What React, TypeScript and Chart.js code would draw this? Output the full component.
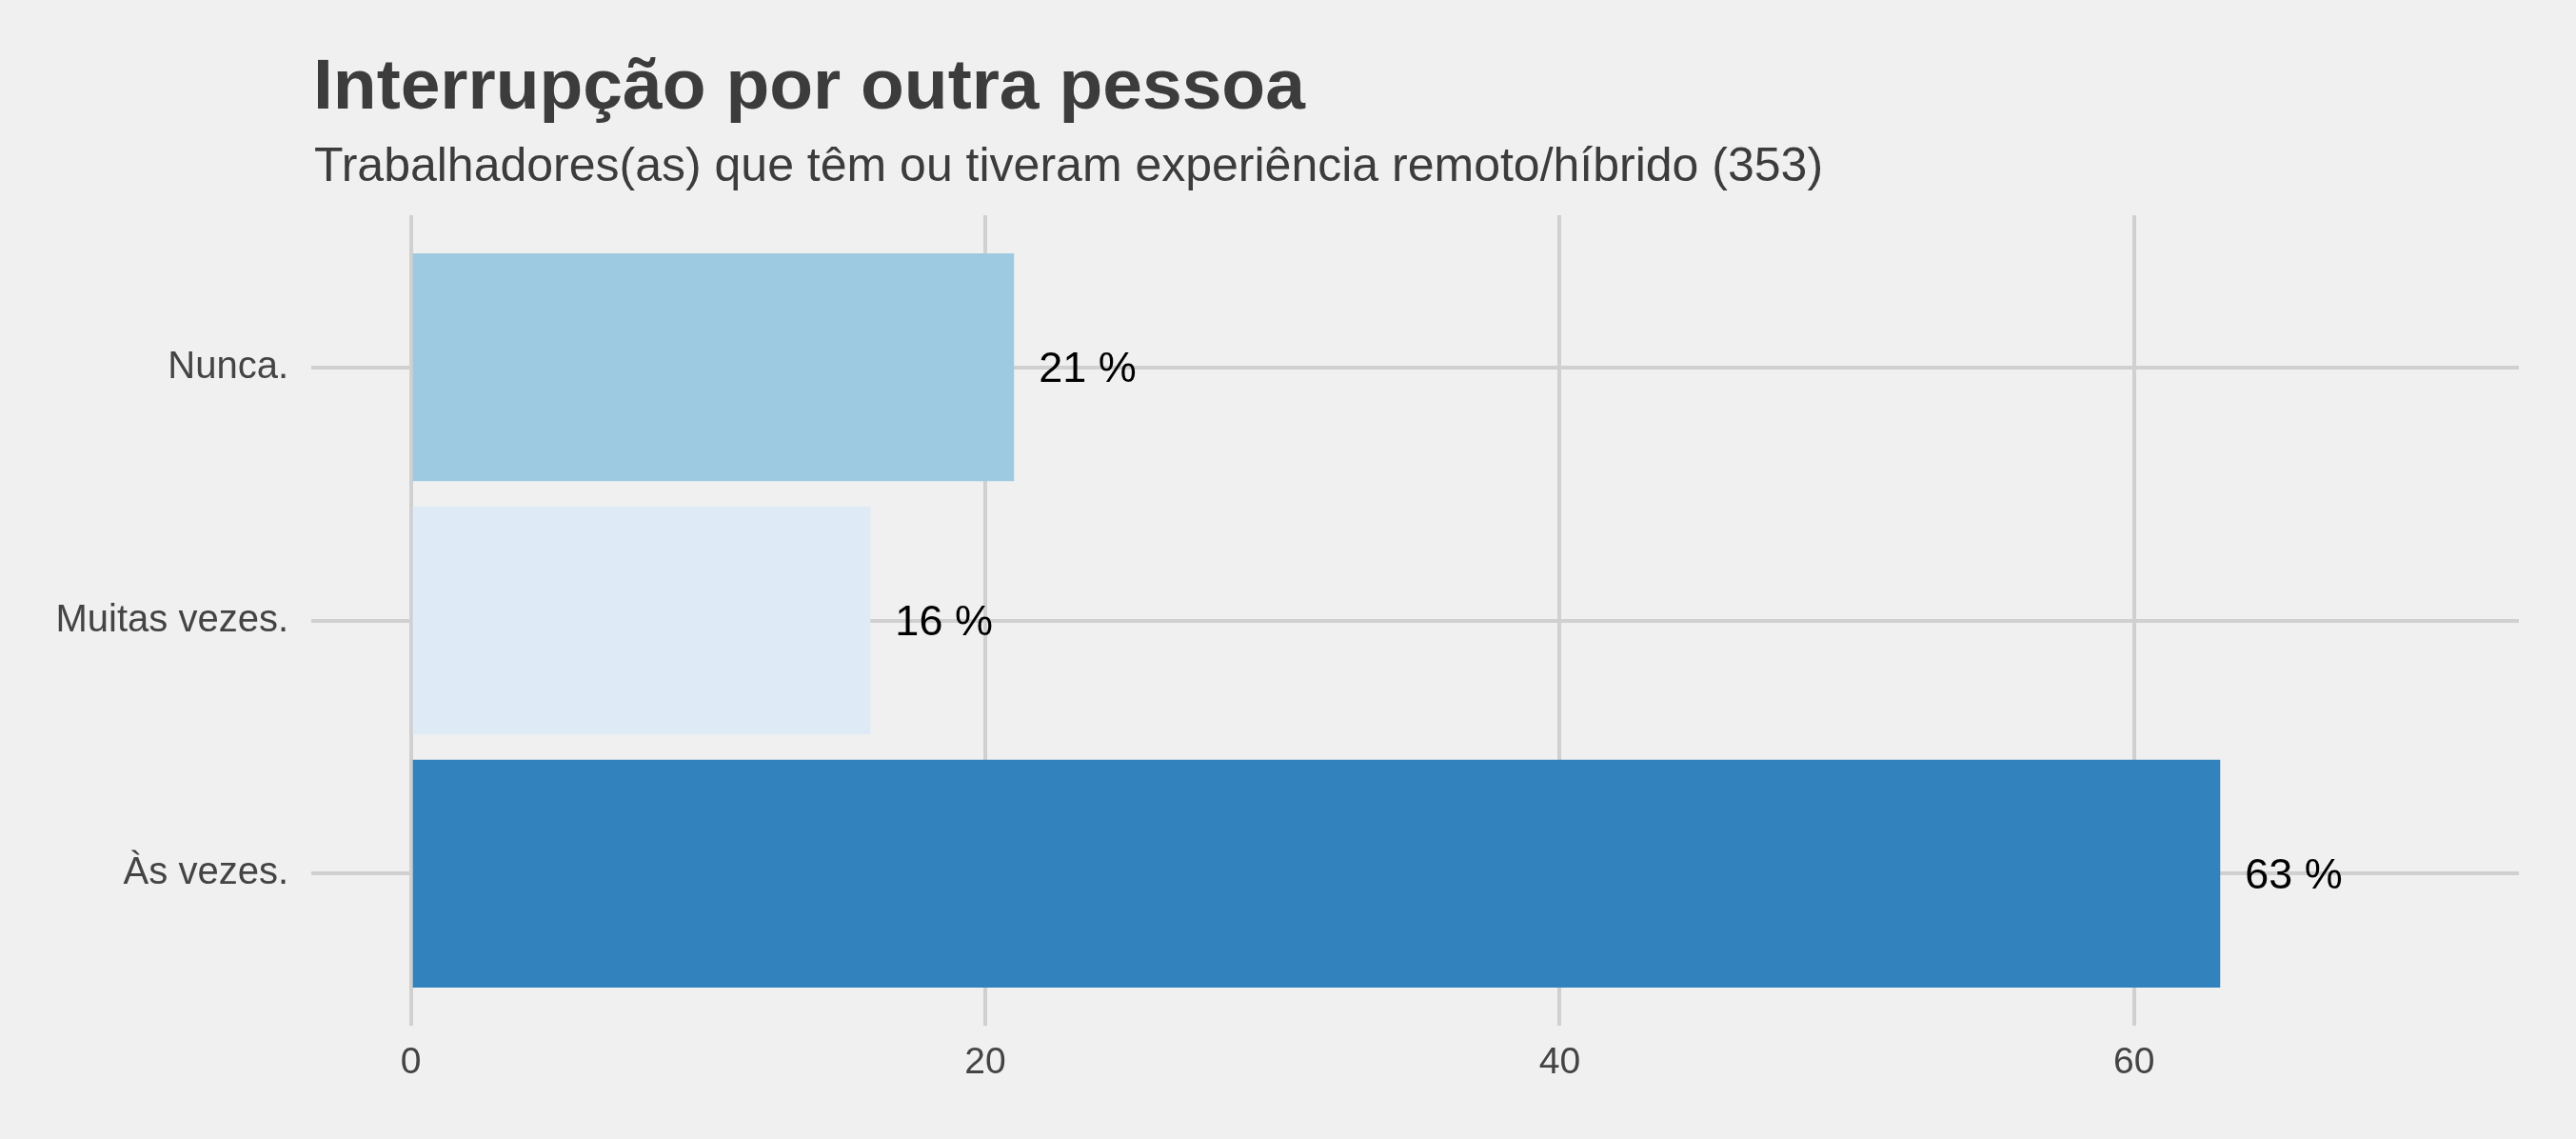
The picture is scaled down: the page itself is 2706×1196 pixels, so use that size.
import React, { useEffect, useRef } from "react";
import { Chart, registerables } from "chart.js";

Chart.register(...registerables);

const categories = ["Nunca.", "Muitas vezes.", "Às vezes."];
const values = [21, 16, 63];
const barColors = ["#9ecae1", "#deebf7", "#3182bd"];
const xTicks = [0, 20, 40, 60];
const titleText = "Interrupção por outra pessoa";
const subtitleText = "Trabalhadores(as) que têm ou tiveram experiência remoto/híbrido (353)";

const W = 2706;
const H = 1196;
const FONT = "'Liberation Sans', Arial, Helvetica, sans-serif";

export default function App() {
  const ref = useRef<HTMLCanvasElement | null>(null);

  useEffect(() => {
    document.body.style.margin = "0";
    document.body.style.background = "#f0f0f0";
    const canvas = ref.current;
    if (!canvas) return;

    const bgPlugin = {
      id: "bg",
      beforeDraw(chart: any) {
        const ctx = chart.ctx;
        ctx.save();
        ctx.fillStyle = "#f0f0f0";
        ctx.fillRect(0, 0, chart.width, chart.height);
        ctx.restore();
      },
    };

    const titlePlugin = {
      id: "titles",
      afterDraw(chart: any) {
        const ctx = chart.ctx;
        ctx.save();
        ctx.textAlign = "left";
        ctx.textBaseline = "alphabetic";
        ctx.fillStyle = "#3c3c3c";
        ctx.font = `bold 75px ${FONT}`;
        ctx.fillText(titleText, 329, 114);
        ctx.font = `50px ${FONT}`;
        ctx.fillText(subtitleText, 330, 190);
        ctx.restore();
      },
    };

    const labelPlugin = {
      id: "valueLabels",
      afterDatasetsDraw(chart: any) {
        const ctx = chart.ctx;
        const meta = chart.getDatasetMeta(0);
        ctx.save();
        ctx.font = `45px ${FONT}`;
        ctx.fillStyle = "#000000";
        ctx.textAlign = "left";
        ctx.textBaseline = "middle";
        meta.data.forEach((bar: any, i: number) => {
          ctx.fillText(`${values[i]} %`, bar.x + 26, bar.y + 3);
        });
        ctx.restore();
      },
    };

    const chart = new Chart(canvas, {
      type: "bar",
      data: {
        datasets: [
          {
            data: values.map((v, i) => ({ x: v, y: i })),
            backgroundColor: barColors,
            borderWidth: 0,
            barPercentage: 1,
            categoryPercentage: 0.9,
          },
        ],
      },
      options: {
        indexAxis: "y",
        animation: false,
        responsive: false,
        layout: { padding: { top: 226, right: 60, left: 0, bottom: 0 } },
        plugins: {
          legend: { display: false },
          tooltip: { enabled: false },
          title: { display: false },
        },
        scales: {
          x: {
            type: "linear",
            position: "bottom",
            min: -3.47,
            max: 73.4,
            offset: false,
            afterBuildTicks(scale: any) {
              scale.ticks = xTicks.map((v) => ({ value: v }));
            },
            afterFit(scale: any) {
              scale.height = 119;
            },
            border: { display: false },
            grid: { color: "#d0d0d0", lineWidth: 4, drawTicks: false, offset: false },
            ticks: {
              padding: 20,
              color: "#444444",
              font: { family: FONT, size: 39, lineHeight: 1 },
              callback: (v: any) => String(v),
            },
          },
          y: {
            type: "linear",
            position: "left",
            reverse: true,
            min: -0.6,
            max: 2.6,
            offset: false,
            afterBuildTicks(scale: any) {
              scale.ticks = categories.map((_, i) => ({ value: i }));
            },
            afterFit(scale: any) {
              scale.width = 327;
            },
            border: { display: false },
            grid: { color: "#d0d0d0", lineWidth: 4, drawTicks: false, offset: false },
            ticks: {
              padding: 24,
              color: "#444444",
              font: { family: FONT, size: 40, lineHeight: 1 },
              callback: (v: any) => categories[v as number] ?? "",
            },
          },
        },
      },
      plugins: [bgPlugin, titlePlugin, labelPlugin],
    } as any);

    return () => chart.destroy();
  }, []);

  return (
    <div style={{ width: W, height: H, background: "#f0f0f0" }}>
      <canvas ref={ref} width={W} height={H} style={{ display: "block", width: W, height: H }} />
    </div>
  );
}
